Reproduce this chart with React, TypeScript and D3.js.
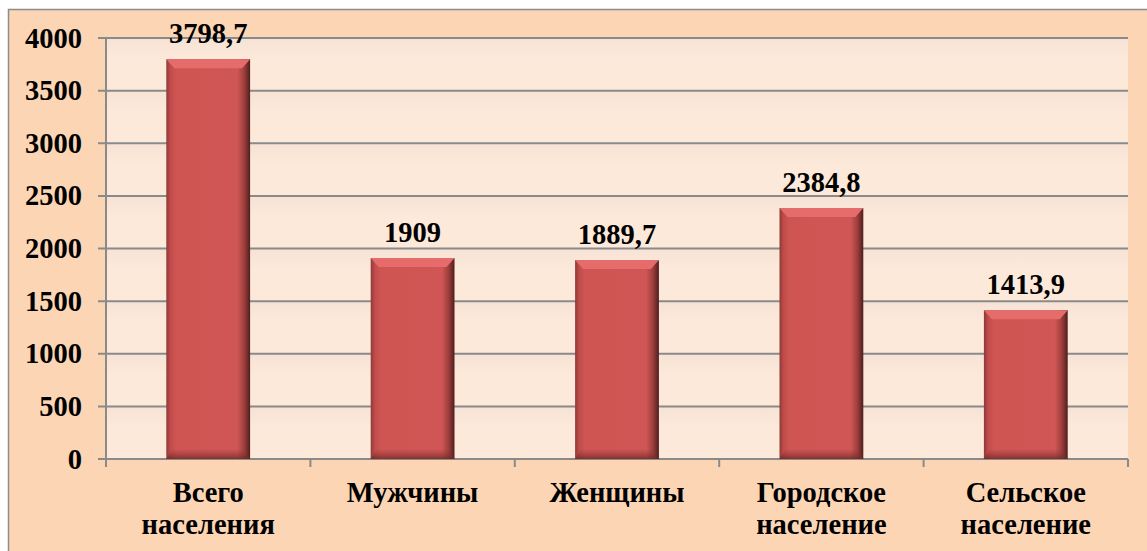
import React, { useEffect, useRef } from 'react';
import * as d3 from 'd3';

const categories = [['Всего', 'населения'], ['Мужчины'], ['Женщины'], ['Городское', 'население'], ['Сельское', 'население']];
const values = [3798.7, 1909, 1889.7, 2384.8, 1413.9];
const valueLabels = ['3798,7', '1909', '1889,7', '2384,8', '1413,9'];
const yTicks = [0, 500, 1000, 1500, 2000, 2500, 3000, 3500, 4000];

const App = () => {
  const svgRef = useRef<SVGSVGElement>(null);

  useEffect(() => {
    const width = 1147;
    const height = 551;
    const left = 106;
    const right = 1128;
    const top = 38;
    const bottom = 459;
    const font = 'Liberation Serif, Times New Roman, serif';
    const fs = 28.5;

    const svg = d3.select(svgRef.current);
    svg.selectAll('*').remove();
    svg.attr('width', width).attr('height', height);

    const defs = svg.append('defs');
    const barGrad = defs.append('linearGradient').attr('id', 'barGrad').attr('x1', 0).attr('x2', 1).attr('y1', 0).attr('y2', 0);
    barGrad.append('stop').attr('offset', '0%').attr('stop-color', '#8e3a38');
    barGrad.append('stop').attr('offset', '5%').attr('stop-color', '#c14c4a');
    barGrad.append('stop').attr('offset', '12%').attr('stop-color', '#cf5553');
    barGrad.append('stop').attr('offset', '85%').attr('stop-color', '#cf5654');
    barGrad.append('stop').attr('offset', '93%').attr('stop-color', '#9c3e3c');
    barGrad.append('stop').attr('offset', '100%').attr('stop-color', '#4e1e1d');

    const shadowGrad = defs.append('linearGradient').attr('id', 'shadowGrad').attr('x1', 0).attr('x2', 0).attr('y1', 0).attr('y2', 1);
    shadowGrad.append('stop').attr('offset', '0%').attr('stop-color', '#8e3534').attr('stop-opacity', 0);
    shadowGrad.append('stop').attr('offset', '100%').attr('stop-color', '#6e2826').attr('stop-opacity', 0.8);

    const bgGrad = defs.append('linearGradient').attr('id', 'bgGrad').attr('x1', 0).attr('x2', 0).attr('y1', 0).attr('y2', 1);
    bgGrad.append('stop').attr('offset', '0%').attr('stop-color', '#f7e3d5');
    bgGrad.append('stop').attr('offset', '40%').attr('stop-color', '#fde9da');
    bgGrad.append('stop').attr('offset', '100%').attr('stop-color', '#fde9da');

    // outer frame
    svg.append('rect')
      .attr('x', 8.5).attr('y', 9.5)
      .attr('width', 1150).attr('height', 560)
      .attr('fill', '#fcd5b4')
      .attr('stroke', '#8c8c8c')
      .attr('stroke-width', 1.5);

    const x = d3.scaleBand().domain(categories.map((_, i) => String(i))).range([left, right]).paddingInner(0.59).paddingOuter(0.295);
    const xOuter = d3.scaleBand().domain(categories.map((_, i) => String(i))).range([left, right]);
    const y = d3.scaleLinear().domain([0, 4000]).range([bottom, top]);

    // plot area, banded
    for (let i = 0; i < yTicks.length - 1; i++) {
      svg.append('rect')
        .attr('x', left).attr('y', y(yTicks[i + 1]))
        .attr('width', right - left).attr('height', y(yTicks[i]) - y(yTicks[i + 1]))
        .attr('fill', 'url(#bgGrad)');
    }

    // gridlines
    svg.append('g')
      .selectAll('line')
      .data(yTicks)
      .join('line')
      .attr('x1', left - 8).attr('x2', right)
      .attr('y1', d => y(d)).attr('y2', d => y(d))
      .attr('stroke', '#8a8a8a')
      .attr('stroke-width', 2);

    // axes
    svg.append('line').attr('x1', left).attr('x2', left).attr('y1', top).attr('y2', bottom + 8)
      .attr('stroke', '#8a8a8a').attr('stroke-width', 2);
    const bounds = categories.map((_, i) => xOuter(String(i)) as number).concat([right]);
    svg.append('g').selectAll('line').data(bounds.slice(1)).join('line')
      .attr('x1', d => d).attr('x2', d => d).attr('y1', bottom).attr('y2', bottom + 8)
      .attr('stroke', '#8a8a8a').attr('stroke-width', 2);

    // tick labels
    svg.append('g').selectAll('text').data(yTicks).join('text')
      .attr('x', 82).attr('y', d => y(d) + 9.5)
      .attr('text-anchor', 'end')
      .attr('font-family', font).attr('font-size', fs).attr('font-weight', 'bold')
      .text(d => d);

    // bars
    const bars = svg.append('g').selectAll('g').data(values).join('g');
    bars.append('rect')
      .attr('x', (_, i) => x(String(i)) as number)
      .attr('y', d => y(d))
      .attr('width', x.bandwidth())
      .attr('height', d => bottom - y(d))
      .attr('fill', 'url(#barGrad)');
    // top bevel
    bars.append('path')
      .attr('d', (d, i) => {
        const x0 = x(String(i)) as number;
        const x1 = x0 + x.bandwidth();
        const t = y(d);
        return `M${x0},${t}L${x1},${t}L${x1 - 8},${t + 9}L${x0 + 8},${t + 9}Z`;
      })
      .attr('fill', '#e56c6a');
    // bottom shadow
    bars.append('path')
      .attr('d', (d, i) => {
        const x0 = x(String(i)) as number;
        const x1 = x0 + x.bandwidth();
        return `M${x0 + 6},${bottom - 10}L${x1 - 6},${bottom - 10}L${x1},${bottom}L${x0},${bottom}Z`;
      })
      .attr('fill', 'url(#shadowGrad)');

    // value labels
    svg.append('g').selectAll('text').data(values).join('text')
      .attr('x', (_, i) => (x(String(i)) as number) + x.bandwidth() / 2)
      .attr('y', d => y(d) - 16)
      .attr('text-anchor', 'middle')
      .attr('font-family', font).attr('font-size', fs).attr('font-weight', 'bold')
      .text((_, i) => valueLabels[i]);

    // category labels
    const cat = svg.append('g').selectAll('text').data(categories).join('text')
      .attr('x', (_, i) => (xOuter(String(i)) as number) + xOuter.bandwidth() / 2)
      .attr('y', 502)
      .attr('text-anchor', 'middle')
      .attr('font-family', font).attr('font-size', fs).attr('font-weight', 'bold');
    cat.selectAll('tspan').data(d => d).join('tspan')
      .attr('x', function () { return (this.parentNode as SVGTextElement).getAttribute('x'); })
      .attr('dy', (_, j) => (j === 0 ? 0 : 32))
      .text(d => d);
  }, []);

  return (
    <svg ref={svgRef} style={{ position: 'absolute', left: 0, top: 0 }}></svg>
  );
};

export default App;
